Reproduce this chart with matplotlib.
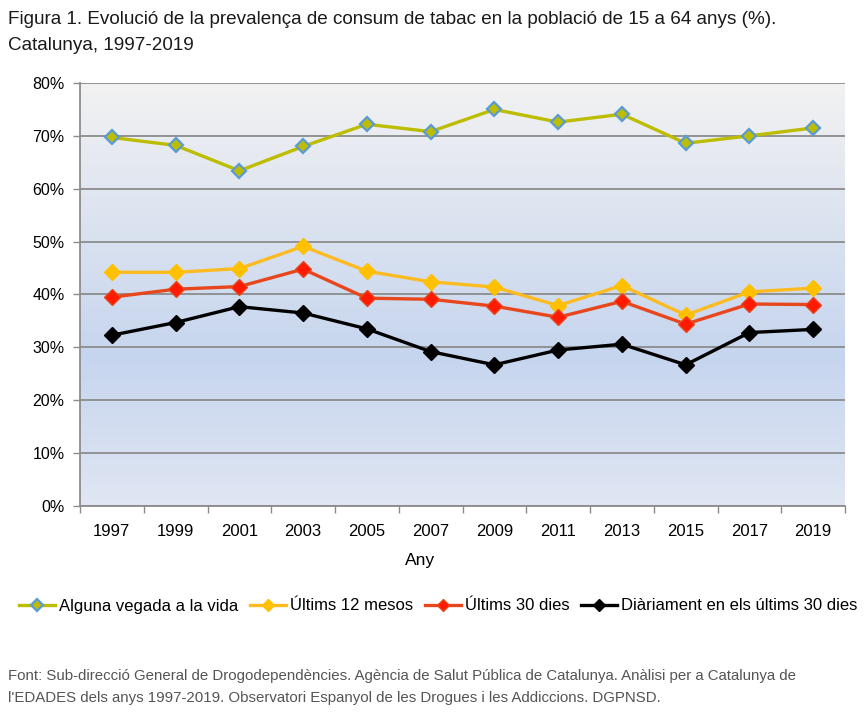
import matplotlib
matplotlib.use("Agg")
import matplotlib.pyplot as plt
import numpy as np
from matplotlib.colors import LinearSegmentedColormap

plt.rcParams['font.family'] = ['Liberation Sans', 'DejaVu Sans']

years = ['1997', '1999', '2001', '2003', '2005', '2007', '2009', '2011', '2013', '2015', '2017', '2019']
alguna = [69.7, 68.2, 63.4, 68.0, 72.2, 70.8, 75.0, 72.6, 74.1, 68.6, 70.0, 71.5]
ultims12 = [44.2, 44.2, 44.9, 49.1, 44.4, 42.4, 41.4, 37.9, 41.7, 36.1, 40.5, 41.2]
ultims30 = [39.5, 41.0, 41.5, 44.8, 39.3, 39.1, 37.8, 35.7, 38.7, 34.4, 38.2, 38.1]
diari = [32.3, 34.7, 37.7, 36.5, 33.5, 29.2, 26.7, 29.5, 30.6, 26.7, 32.8, 33.4]
series_names = ['Alguna vegada a la vida', 'Últims 12 mesos', 'Últims 30 dies',
                'Diàriament en els últims 30 dies']
yticks = [0, 10, 20, 30, 40, 50, 60, 70, 80]

fig = plt.figure(figsize=(8.66, 7.17), dpi=100)
ax = fig.add_axes([80/866, 1-506/717, (845-80)/866, (506-83)/717])

# gradient background
cmap = LinearSegmentedColormap.from_list('bg', [(0, '#e0e6f3'), (0.35, '#c6d5ee'), (1, '#f2f2f2')])
grad = np.linspace(0, 1, 256).reshape(-1, 1)
ax.imshow(grad, aspect='auto', cmap=cmap, origin='lower',
          extent=[-0.5, len(years)-0.5, 0, 80], zorder=0)

x = np.arange(len(years))
lw = 2.4
ax.plot(x, alguna, color='#bdbd00', lw=lw, marker='D', ms=7.5, mfc='#bdbd00',
        mec='#5b9bd5', mew=1.6, zorder=5, label=series_names[0])
ax.plot(x, ultims12, color='#fdbb22', lw=lw, marker='D', ms=8, mfc='#ffc000',
        mec='#ffc000', zorder=5, label=series_names[1])
ax.plot(x, ultims30, color='#e8461c', lw=lw, marker='D', ms=8, mfc='#ff1a00',
        mec='#e8461c', mew=1, zorder=5, label=series_names[2])
ax.plot(x, diari, color='black', lw=lw, marker='D', ms=8, mfc='black',
        mec='black', zorder=5, label=series_names[3])

ax.set_xlim(-0.5, len(years)-0.5)
ax.set_ylim(0, 80)
ax.set_yticks(yticks)
ax.set_yticklabels([f'{v}%' for v in yticks])
ax.yaxis.grid(True, color='#8c8c8c', lw=1.3, zorder=1)
ax.set_axisbelow(False)
for l in ax.get_ygridlines():
    l.set_zorder(1)

ax.set_xticks(x)
ax.set_xticklabels(years)
ax.set_xticks(np.arange(len(years)+1)-0.5, minor=True)
ax.tick_params(axis='x', which='major', length=0, pad=13, labelsize=12)
ax.tick_params(axis='x', which='minor', length=5, color='#8c8c8c', width=1)
ax.tick_params(axis='y', length=5, color='#8c8c8c', width=1, labelsize=11.5, pad=6)

for s in ['top', 'right']:
    ax.spines[s].set_visible(False)
for s in ['left', 'bottom']:
    ax.spines[s].set_color('#8c8c8c')
    ax.spines[s].set_linewidth(1.3)

ax.set_xlabel('Any', fontsize=12.5, labelpad=12)
ax.xaxis.set_label_coords((420-80)/(845-80), -(561-506)/(506-83), transform=ax.transAxes)
ax.xaxis.label.set_va('center')

fig.text(8/866, 1-19/717, 'Figura 1. Evolució de la prevalença de consum de tabac en la població de 15 a 64 anys (%).',
         fontsize=13.6, va='center', ha='left', color='#1a1a1a')
fig.text(8/866, 1-45/717, 'Catalunya, 1997-2019', fontsize=13.6, va='center', ha='left', color='#1a1a1a')

handles, labels = ax.get_legend_handles_labels()
fig.legend(handles, labels, loc='center', bbox_to_anchor=(438/866, 1-606/717), ncol=4,
           frameon=False, fontsize=12, handlelength=2.2, handletextpad=0.2,
           columnspacing=0.7, markerscale=0.8)

fig.text(8/866, 1-676/717, 'Font: Sub-direcció General de Drogodependències. Agència de Salut Pública de Catalunya. Anàlisi per a Catalunya de',
         fontsize=10.8, va='center', ha='left', color='#555555')
fig.text(8/866, 1-698/717, "l'EDADES dels anys 1997-2019. Observatori Espanyol de les Drogues i les Addiccions. DGPNSD.",
         fontsize=10.8, va='center', ha='left', color='#555555')

fig.savefig('out.png', dpi=100)
